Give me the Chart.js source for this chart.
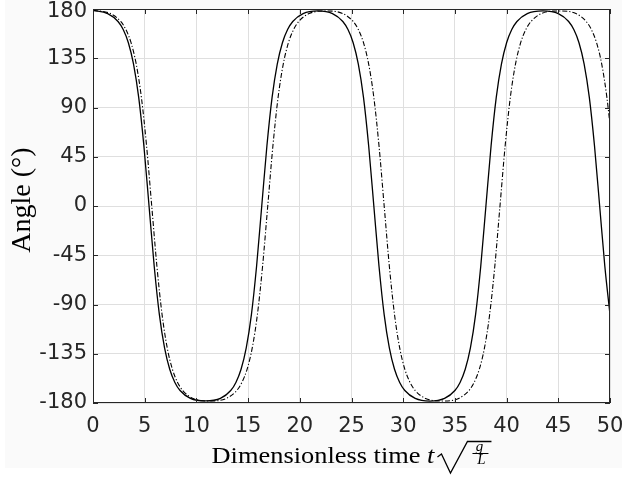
<!DOCTYPE html>
<html><head><meta charset="utf-8">
<script src="https://cdn.jsdelivr.net/npm/chart.js@4"></script>
<style>html,body{margin:0;padding:0;background:#fff;}canvas{display:block;}</style>
</head><body>
<canvas id="c" width="622" height="480"></canvas>
<script>
// ---- data ----
const solidTime = [0,1.42,2.42,2.92,3.42,3.92,4.42,4.92,5.42,5.92,6.42,6.92,7.42,7.92,8.42,9.42,10.87,
  12.32,13.32,13.82,14.32,14.82,15.32,15.82,16.32,16.82,17.32,17.82,18.32,18.82,19.32,20.32,21.74,
  23.16,24.16,24.66,25.16,25.66,26.16,26.66,27.16,27.66,28.16,28.66,29.16,29.66,30.16,31.16,32.58,
  34.0,35.0,35.5,36.0,36.5,37.0,37.5,38.0,38.5,39.0,39.5,40.0,40.5,41.0,42.0,43.5,
  45.0,46.0,46.5,47.0,47.5,48.0,48.5,49.0,49.5,50.0];
const solidAngle = [178.8,175.8,168.6,161.2,149.2,129.7,99.2,55.0,0,-55.0,-99.2,-129.7,-149.2,-161.2,-168.6,-175.8,-178.1,
  -175.8,-168.6,-161.2,-149.2,-129.7,-99.2,-55.0,0,55.0,99.2,129.7,149.2,161.2,168.6,175.8,178.2,
  175.8,168.6,161.2,149.2,129.7,99.2,55.0,0,-55.0,-99.2,-129.7,-149.2,-161.2,-168.6,-175.8,-178.2,
  -175.8,-168.6,-161.2,-149.2,-129.7,-99.2,-55.0,0,55.0,99.2,129.7,149.2,161.2,168.6,175.8,178.2,
  175.8,168.6,161.2,149.2,129.7,99.2,55.0,0,-55.0,-99.2];
const dashTime = [0,1.68,2.68,3.18,3.68,4.18,4.68,5.18,5.68,6.18,6.68,7.18,7.68,8.18,8.68,9.68,11.29,
  12.9,13.9,14.4,14.9,15.4,15.9,16.4,16.9,17.4,17.9,18.4,18.9,19.4,19.9,20.9,22.53,
  24.16,25.16,25.66,26.16,26.66,27.16,27.66,28.16,28.66,29.16,29.66,30.16,30.66,31.16,32.16,33.76,
  35.36,36.36,36.86,37.36,37.86,38.36,38.86,39.36,39.86,40.36,40.86,41.36,41.86,42.36,43.36,45.03,
  46.7,47.7,48.2,48.7,49.2,49.7,50.0];
const dashAngle = [178.8,175.8,168.6,161.2,149.2,129.7,99.2,55.0,0,-55.0,-99.2,-129.7,-149.2,-161.2,-168.6,-175.8,-178.2,
  -175.8,-168.6,-161.2,-149.2,-129.7,-99.2,-55.0,0,55.0,99.2,129.7,149.2,161.2,168.6,175.8,178.2,
  175.8,168.6,161.2,149.2,129.7,99.2,55.0,0,-55.0,-99.2,-129.7,-149.2,-161.2,-168.6,-175.8,-178.2,
  -175.8,-168.6,-161.2,-149.2,-129.7,-99.2,-55.0,0,55.0,99.2,129.7,149.2,161.2,168.6,175.8,178.2,
  175.8,168.6,161.2,149.2,129.7,99.2,74.4];
const xTickValues = [0,5,10,15,20,25,30,35,40,45,50];
const yTickValues = [-180,-135,-90,-45,0,45,90,135,180];
const xTitleMain = 'Dimensionless time ';
const yTitle = 'Angle (°)';

const toXY = (ts, ys) => ts.map((t, i) => ({x: t, y: ys[i]}));
const AX = '#262626';
const TICK_FONT = '21px "DejaVu Sans"';

const framePlugin = {
  id: 'frame',
  beforeDraw(chart) {
    const ctx = chart.ctx, a = chart.chartArea;
    ctx.save();
    ctx.fillStyle = '#ffffff';
    ctx.fillRect(0, 0, chart.width, chart.height);
    ctx.fillStyle = '#fafafa';
    ctx.fillRect(5, 0, chart.width - 5, 468);
    ctx.fillStyle = '#ffffff';
    ctx.fillRect(a.left, a.top, a.right - a.left, a.bottom - a.top);
    ctx.restore();
  },
  afterDraw(chart) {
    const ctx = chart.ctx, a = chart.chartArea;
    const xs = chart.scales.x, ys = chart.scales.y;
    ctx.save();
    ctx.strokeStyle = AX;
    ctx.lineWidth = 1;
    ctx.strokeRect(Math.round(a.left) + 0.5, Math.round(a.top) + 0.5,
      Math.round(a.right - a.left) - 1, Math.round(a.bottom - a.top) - 1);
    const tl = 5;
    ctx.beginPath();
    xTickValues.forEach(v => {
      const px = Math.round(xs.getPixelForValue(v)) + 0.5;
      ctx.moveTo(px, a.bottom); ctx.lineTo(px, a.bottom - tl);
      ctx.moveTo(px, a.top); ctx.lineTo(px, a.top + tl);
    });
    yTickValues.forEach(v => {
      const py = Math.round(ys.getPixelForValue(v)) + 0.5;
      ctx.moveTo(a.left, py); ctx.lineTo(a.left + tl, py);
      ctx.moveTo(a.right, py); ctx.lineTo(a.right - tl, py);
    });
    ctx.stroke();

    // y tick labels (top one kept inside the figure)
    ctx.fillStyle = AX;
    ctx.font = TICK_FONT;
    ctx.textAlign = 'right';
    ctx.textBaseline = 'middle';
    yTickValues.forEach(v => {
      const py = Math.max(ys.getPixelForValue(v), 11.5);
      ctx.fillText(String(v), a.left - 6, py);
    });

    // x title
    ctx.fillStyle = '#000';
    ctx.strokeStyle = '#000';
    const cx = (a.left + a.right) / 2;
    const sx = 1.1;
    ctx.font = '24px "Liberation Serif"';
    const w1 = ctx.measureText(xTitleMain).width;
    ctx.font = 'italic 24px "Liberation Serif"';
    const wt = ctx.measureText('t').width;
    const radW = 54;
    const total = (w1 + wt) * sx + 3 + radW;
    let x0 = cx - total / 2;
    const base = 463;
    ctx.save();
    ctx.translate(x0, base);
    ctx.scale(sx, 1);
    ctx.textBaseline = 'alphabetic';
    ctx.textAlign = 'left';
    ctx.font = '24px "Liberation Serif"';
    ctx.fillText(xTitleMain, 0, 0);
    ctx.font = 'italic 24px "Liberation Serif"';
    ctx.fillText('t', w1, 0);
    ctx.restore();
    x0 += (w1 + wt) * sx + 3;
    ctx.lineWidth = 1.3;
    ctx.beginPath();
    ctx.moveTo(x0, 457);
    ctx.lineTo(x0 + 4, 454);
    ctx.lineTo(x0 + 13, 473);
    ctx.lineTo(x0 + 30, 441.5);
    ctx.lineTo(x0 + radW, 441.5);
    ctx.stroke();
    const fx = x0 + 43;
    ctx.textAlign = 'center';
    ctx.textBaseline = 'alphabetic';
    ctx.font = 'italic 15px "Liberation Serif"';
    ctx.fillText('g', fx - 1, 450.5);
    ctx.fillText('L', fx + 1, 464);
    ctx.lineWidth = 1;
    ctx.beginPath();
    ctx.moveTo(fx - 8, 453.5); ctx.lineTo(fx + 8, 453.5);
    ctx.stroke();

    // y title
    ctx.save();
    ctx.translate(30, 200);
    ctx.rotate(-Math.PI / 2);
    ctx.textAlign = 'center';
    ctx.textBaseline = 'alphabetic';
    ctx.font = '28px "Liberation Serif"';
    ctx.fillText(yTitle, 0, 0);
    ctx.restore();
    ctx.restore();
  }
};

new Chart(document.getElementById('c'), {
  type: 'line',
  data: {
    datasets: [
      {data: toXY(solidTime, solidAngle), borderColor: '#000', borderWidth: 1.3,
       pointRadius: 0, cubicInterpolationMode: 'monotone', fill: false},
      {data: toXY(dashTime, dashAngle), borderColor: '#000', borderWidth: 1.1,
       borderDash: [5, 2, 1.2, 2], pointRadius: 0, cubicInterpolationMode: 'monotone', fill: false}
    ]
  },
  options: {
    responsive: false,
    devicePixelRatio: 1,
    animation: false,
    layout: {padding: {top: 9, right: 12, left: 0, bottom: 0}},
    plugins: {legend: {display: false}, tooltip: {enabled: false}},
    scales: {
      x: {
        type: 'linear', min: 0, max: 50,
        afterBuildTicks: s => { s.ticks = xTickValues.map(v => ({value: v})); },
        afterFit: s => { s.height = 77; s.paddingLeft = 0; s.paddingRight = 0; },
        grid: {color: '#dfdfdf', lineWidth: 1, drawTicks: false},
        border: {display: false},
        ticks: {color: AX, padding: 11, maxRotation: 0, autoSkip: false,
                font: {family: 'DejaVu Sans', size: 21}}
      },
      y: {
        type: 'linear', min: -180, max: 180,
        afterBuildTicks: s => { s.ticks = yTickValues.map(v => ({value: v})); },
        afterFit: s => { s.width = 93; s.paddingTop = 0; s.paddingBottom = 0; },
        grid: {color: '#dfdfdf', lineWidth: 1, drawTicks: false},
        border: {display: false},
        ticks: {display: false}
      }
    }
  },
  plugins: [framePlugin]
});
</script>
</body></html>
